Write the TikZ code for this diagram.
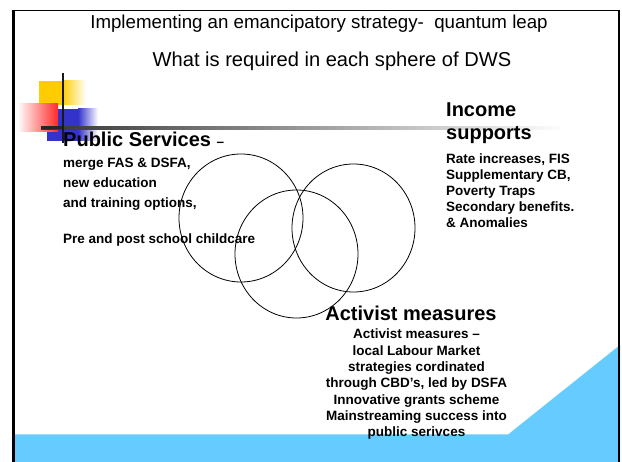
\documentclass[tikz,border=0pt]{standalone}
\usepackage{fontspec}
\setmainfont{Liberation Sans}
\definecolor{skyband}{HTML}{66CCFF}
\definecolor{sqyellow}{HTML}{FFCC00}
\definecolor{sqred}{HTML}{FF2A2A}
\definecolor{sqblue}{HTML}{3333CC}
\begin{document}
\begin{tikzpicture}[x=1pt,y=-1pt,
  titletext/.style={inner sep=0pt,anchor=base,font=\fontsize{18.7}{22}\selectfont},
  headtext/.style={inner sep=0pt,font=\fontsize{20}{24}\selectfont\bfseries},
  bodytext/.style={inner sep=0pt,font=\fontsize{13.5}{16}\selectfont\bfseries},
  sphere/.style={draw=black,line width=0.8pt}]
\useasboundingbox (0,0) rectangle (622,462);
\fill[white] (0,0) rectangle (622,462);
% blue band and triangle
\fill[skyband] (14,434.5) -- (508,434.5) -- (620,345) -- (620,462) -- (14,462) -- cycle;
% frame
\draw[line width=3pt] (13,462) -- (13,10.5);
\draw[line width=1.8pt] (11.5,10.5) -- (620,10.5);
\draw[line width=2pt] (619,9.6) -- (619,462);
% decorative squares
\fill[sqyellow] (39,81) rectangle (62,105);
\shade[left color=sqyellow,right color=white] (62,81) rectangle (86,105);
\fill[sqblue] (47,109) rectangle (78,141);
\shade[left color=sqblue,right color=white] (78,109) rectangle (98,141);
\shade[left color=sqred!4,right color=sqred] (19,104) rectangle (58,132);
% lines
\shade[left color=black!80,right color=white] (41,126.4) rectangle (566,129.2);
\fill[black!85] (41,126.4) rectangle (62,129.2);
\draw[line width=2pt,black!90] (63.3,73) -- (63.3,143);
% titles
\node[titletext] (title) at (319,29) {Implementing an emancipatory strategy-\ \ quantum leap};
\node[titletext,font=\fontsize{20.1}{24}\selectfont] (subtitle) at (332,66.7) {What is required in each sphere of DWS};
% circles
\draw[sphere] (241,218) ellipse [x radius=62pt, y radius=64pt];
\draw[sphere] (353.5,228) ellipse [x radius=61.5pt, y radius=64pt];
\draw[sphere] (296.5,254) ellipse [x radius=61.5pt, y radius=64pt];
% public services
\node[headtext,anchor=base west] (pubhead) at (63,147) {Public Services {\fontsize{13.5}{16}\selectfont –}};
\node[bodytext,anchor=base west] (pub1) at (63,168) {merge FAS \& DSFA,};
\node[bodytext,anchor=base west] (pub2) at (63,188) {new education};
\node[bodytext,anchor=base west] (pub3) at (63,208) {and training options,};
\node[bodytext,anchor=base west] (pub4) at (63,244) {Pre and post school childcare};
% income supports
\node[headtext,anchor=base west] (inchead1) at (446,117) {Income};
\node[headtext,anchor=base west] (inchead2) at (446,140) {supports};
\node[bodytext,anchor=base west] (inc1) at (446,164) {Rate increases, FIS};
\node[bodytext,anchor=base west] (inc2) at (446,180) {Supplementary CB,};
\node[bodytext,anchor=base west] (inc3) at (446,196) {Poverty Traps};
\node[bodytext,anchor=base west] (inc4) at (446,212) {Secondary benefits.};
\node[bodytext,anchor=base west] (inc5) at (446,228) {\& Anomalies};
% activist measures
\node[headtext,anchor=base] (acthead) at (411,321) {Activist measures};
\node[bodytext,anchor=base] (act1) at (416.5,339) {Activist measures –};
\node[bodytext,anchor=base] (act2) at (416.5,355.3) {local Labour Market};
\node[bodytext,anchor=base] (act3) at (416.5,371.6) {strategies cordinated};
\node[bodytext,anchor=base] (act4) at (416.5,387.9) {through CBD’s, led by DSFA};
\node[bodytext,anchor=base] (act5) at (416.5,404.2) {Innovative grants scheme};
\node[bodytext,anchor=base] (act6) at (416.5,420.5) {Mainstreaming success into};
\node[bodytext,anchor=base] (act7) at (416.5,436.8) {public serivces};
\end{tikzpicture}
\end{document}
